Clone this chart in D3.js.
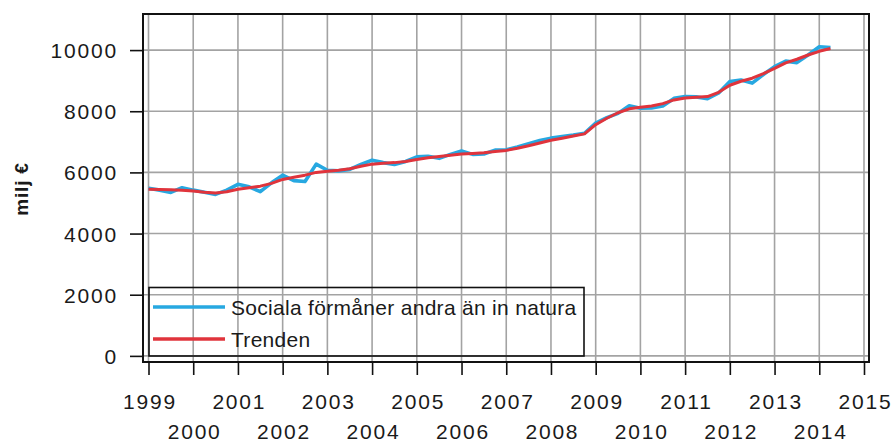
<!DOCTYPE html>
<html><head><meta charset="utf-8">
<script src="https://cdn.jsdelivr.net/npm/d3@7"></script>
<style>
body{margin:0;background:#fff}
svg{display:block}
text{font-family:"Liberation Sans",Arial,sans-serif;fill:#1a1a1a}
</style>
</head><body>
<svg id="c" width="894" height="444"></svg>
<script>
// ---- data ----
const startYear = 1999; // first quarter: 1999 Q1, quarterly observations
const socialBenefits = [
  5480,5420,5345,5500, 5420,5350,5280,5420, 5610,5530,5370,5660, 5910,5730,5700,6270,
  6070,6050,6100,6260, 6400,6320,6260,6360, 6510,6530,6460,6590, 6700,6590,6600,6730,
  6740,6830,6940,7040, 7120,7170,7220,7280, 7610,7790,7930,8180, 8100,8110,8170,8420,
  8480,8470,8410,8600, 8970,9020,8920,9200, 9460,9640,9590,9840, 10110,10080
];
const trend = [
  5450,5440,5430,5420, 5390,5350,5330,5370, 5450,5500,5550,5640, 5770,5840,5910,6000,
  6040,6070,6120,6200, 6270,6300,6320,6360, 6420,6480,6520,6560, 6600,6620,6640,6680,
  6720,6790,6870,6960, 7050,7120,7190,7260, 7560,7770,7950,8080, 8130,8170,8250,8370,
  8430,8460,8480,8620, 8850,8980,9080,9230, 9400,9580,9700,9840, 9960,10050
];
const xTickYears = [1999,2000,2001,2002,2003,2004,2005,2006,2007,2008,2009,2010,2011,2012,2013,2014,2015];
const yTickValues = [0,2000,4000,6000,8000,10000];
const yAxisTitle = "milj €";
const seriesNames = ["Sociala förmåner andra än in natura", "Trenden"];
const seriesColors = ["#27a8e1", "#e0343c"];

// ---- layout ----
const svg = d3.select("#c");
const L = 143, R = 869, T = 14, B = 362;
const x = d3.scaleLinear().domain([1998.877, 2015.112]).range([L, R]);
const y = d3.scaleLinear().domain([-200, 11180]).range([B, T]);
const periods = socialBenefits.map((_, i) => startYear + i / 4);

svg.append("rect").attr("width", 894).attr("height", 444).attr("fill", "#fff");

// grid
const grid = svg.append("g").attr("stroke", "#a3a3a3").attr("stroke-width", 1.6);
grid.selectAll("line.v").data(xTickYears).join("line")
  .attr("x1", d => x(d)).attr("x2", d => x(d)).attr("y1", T).attr("y2", B);
grid.selectAll("line.h").data(yTickValues).join("line")
  .attr("x1", L).attr("x2", R).attr("y1", d => y(d)).attr("y2", d => y(d));

// lines
const line = arr => d3.line().x((d, i) => x(periods[i])).y(d => y(d))(arr);
svg.append("path").attr("d", line(socialBenefits)).attr("fill", "none")
  .attr("stroke", seriesColors[0]).attr("stroke-width", 3.6).attr("stroke-linejoin", "round");
svg.append("path").attr("d", line(trend)).attr("fill", "none")
  .attr("stroke", seriesColors[1]).attr("stroke-width", 3).attr("stroke-linejoin", "round");

// legend
const lg = svg.append("g");
lg.append("rect").attr("x", 149).attr("y", 287.5).attr("width", 435).attr("height", 68.5)
  .attr("fill", "none").attr("stroke", "#111").attr("stroke-width", 1.6);
seriesNames.forEach((name, k) => {
  const cy = 307 + k * 32;
  lg.append("line").attr("x1", 153).attr("x2", 225).attr("y1", cy).attr("y2", cy)
    .attr("stroke", seriesColors[k]).attr("stroke-width", 3.5);
  lg.append("text").attr("x", 231).attr("y", cy + 7.5).attr("font-size", 21)
    .attr("letter-spacing", 0.3).text(name);
});

// frame
svg.append("rect").attr("x", L).attr("y", T).attr("width", R - L).attr("height", B - T)
  .attr("fill", "none").attr("stroke", "#111").attr("stroke-width", 2);

// y axis
const ya = svg.append("g").attr("transform", `translate(${L},0)`)
  .call(d3.axisLeft(y).tickValues(yTickValues).tickSize(13).tickPadding(12).tickFormat(d3.format("d")));
ya.select(".domain").remove();
ya.selectAll(".tick line").attr("stroke", "#111").attr("stroke-width", 1.6);
ya.selectAll(".tick text").attr("font-size", 21).attr("letter-spacing", 1.8)
  .attr("font-family", null).attr("fill", "#1a1a1a").attr("dy", "0.36em");

// x axis
const xa = svg.append("g").attr("transform", `translate(0,${B})`)
  .call(d3.axisBottom(x).tickValues(xTickYears).tickSize(13).tickFormat(d3.format("d")));
xa.select(".domain").remove();
xa.selectAll(".tick line").attr("stroke", "#111").attr("stroke-width", 1.6);
xa.selectAll(".tick text").attr("font-size", 21).attr("letter-spacing", 1.8)
  .attr("font-family", null).attr("fill", "#1a1a1a")
  .attr("dy", 0).attr("y", d => (d % 2 === 1 ? 47 : 77)).attr("dx", 0.9);

// y title
svg.append("text").attr("transform", "translate(28,189) rotate(-90)")
  .attr("text-anchor", "middle").attr("font-size", 19).attr("font-weight", "bold")
  .attr("letter-spacing", 0.8).text(yAxisTitle);
</script>
</body></html>
